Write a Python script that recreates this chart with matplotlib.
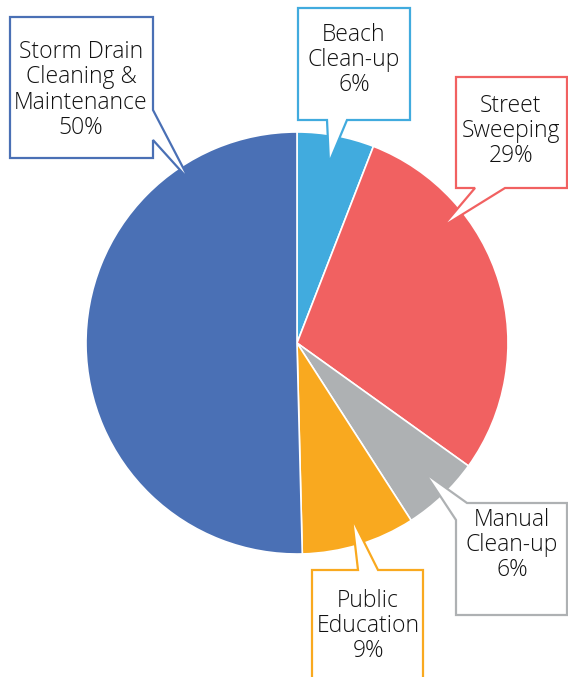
import matplotlib
matplotlib.use("Agg")
import matplotlib.pyplot as plt
from matplotlib.patches import Polygon

# Data (percent of budget, labels show rounded values)
categories = ["Beach\nClean-up", "Street\nSweeping", "Manual\nClean-up", "Public\nEducation", "Storm Drain\nCleaning &\nMaintenance"]
shares = [5.9, 29.0, 6.0, 8.7, 50.4]
colors = ["#41ABDE", "#F16161", "#AEB1B3", "#F9A91F", "#4A70B5"]

W, H = 568, 677
CX, CY, R = 297, H - 343, 211

# callout layout in image pixels: box (x0, y0, x1, y1), pointer (base start, tip, base end), text center
callouts = [
    # Beach
    dict(box=(298, 8, 410, 120), ptr=[(347, 120), (329, 163), (327, 120)], txt=(354, 60)),
    # Street
    dict(box=(456, 77, 567, 188), ptr=[(505, 188), (442, 227), (475, 188)], txt=(511, 131)),
    # Manual
    dict(box=(456, 503, 567, 615), ptr=[(467, 503), (425, 473), (456, 520)], txt=(512, 545)),
    # Education
    dict(box=(312, 570, 423, 700), ptr=[(358, 570), (352, 518), (378, 570)], txt=(368, 626)),
    # Storm drain
    dict(box=(10, 17, 153, 158), ptr=[(153, 110), (190, 181), (153, 140)], txt=(81, 90)),
]


def callout_points(box, ptr):
    x0, y0, x1, y1 = box
    p0, tip, p2 = ptr
    if p0[1] == y0 and p2[0] == x0:
        # pointer cuts the top-left corner
        return [p0, (x1, y0), (x1, y1), (x0, y1), p2, tip]
    if p0[1] == y0 or p2[1] == y0:
        a, b = sorted([p0, p2])
        return [(x0, y0), a, tip, b, (x1, y0), (x1, y1), (x0, y1)]
    if p0[1] == y1:
        a, b = sorted([p0, p2], reverse=True)
        return [(x0, y0), (x1, y0), (x1, y1), a, tip, b, (x0, y1)]
    if p0[0] == x1:
        a, b = sorted([p0, p2], key=lambda p: p[1])
        return [(x0, y0), (x1, y0), a, tip, b, (x1, y1), (x0, y1)]
    return [(x0, y0), (x1, y0), (x1, y1), (x0, y1)]


fig = plt.figure(figsize=(W / 100, H / 100), dpi=100)
ax = fig.add_axes([0, 0, 1, 1])

ax.pie(shares, colors=colors, startangle=90, counterclock=False,
       center=(CX, CY), radius=R, wedgeprops=dict(edgecolor="white", linewidth=1.2))
ax.set_xlim(0, W)
ax.set_ylim(0, H)
ax.set_aspect("equal")
ax.axis("off")

for cat, val, col, c in zip(categories, shares, colors, callouts):
    pts = [(x, H - y) for x, y in callout_points(c["box"], c["ptr"])]
    ax.add_patch(Polygon(pts, closed=True, facecolor="white", edgecolor=col, linewidth=1.6, zorder=3))
    tx, ty = c["txt"]
    ax.text(tx, H - ty, f"{cat}\n{round(val)}%", ha="center", va="center", fontsize=16.5,
            family="Open Sans", fontweight="light", color="#111111", linespacing=1.08, zorder=4)

fig.savefig("out.png", dpi=100)
